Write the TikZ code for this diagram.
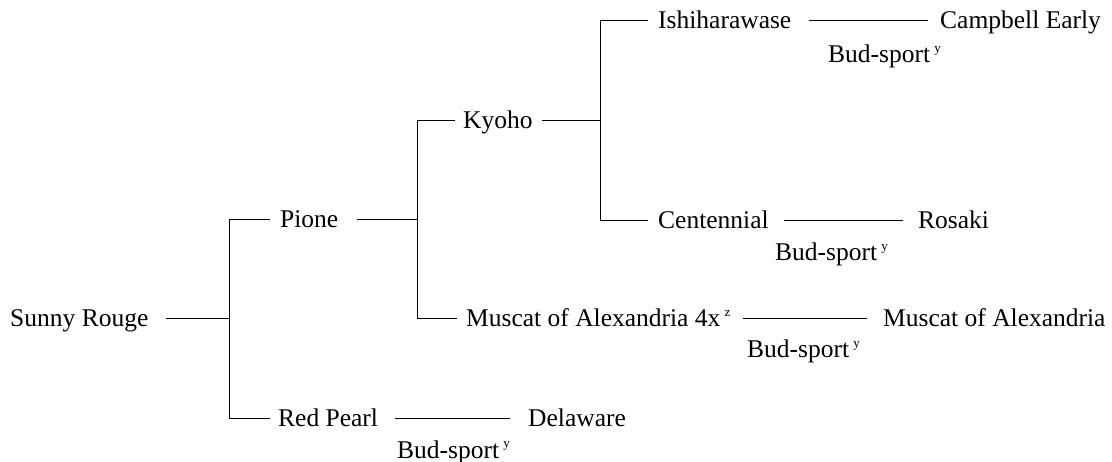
\documentclass[tikz,border=0pt]{standalone}
\usepackage{fontspec}
\setmainfont{Liberation Serif}
\newcommand{\supy}[1]{\,\raisebox{10pt}{\fontsize{13pt}{13pt}\selectfont #1}}
\begin{document}
\begin{tikzpicture}[x=1pt,y=-1pt,
  txt/.style={anchor=west, inner sep=0pt, text height=22pt, text depth=4pt,
    font=\fontsize{25.5pt}{28pt}\selectfont},
  budlab/.style={anchor=base west, inner sep=0pt,
    font=\fontsize{25.5pt}{28pt}\selectfont},
  conn/.style={draw=black, line width=0.9pt}]
\useasboundingbox (0,0) rectangle (1112,462);
% nodes
\node[txt] (sunny) at (10,318) {Sunny Rouge};
\node[txt] (pione) at (280,219) {Pione};
\node[txt] (red) at (278,418) {Red Pearl};
\node[txt] (kyoho) at (463,120) {Kyoho};
\node[txt] (mus4x) at (466,318) {Muscat of Alexandria 4x\supy{z}};
\node[txt] (ishi) at (658,20) {Ishiharawase};
\node[txt] (cent) at (658,220) {Centennial};
\node[txt] (campbell) at (940,20) {Campbell Early};
\node[txt] (rosaki) at (918,220) {Rosaki};
\node[txt] (muscat) at (883,318) {Muscat of Alexandria};
\node[txt] (delaware) at (528,418) {Delaware};
\node[budlab] (bud1) at (828,63) {Bud-sport\supy{y}};
\node[budlab] (bud2) at (775,261) {Bud-sport\supy{y}};
\node[budlab] (bud3) at (747,358) {Bud-sport\supy{y}};
\node[budlab] (bud4) at (397,458) {Bud-sport\supy{y}};
% junctions
\coordinate (j1) at (229,318);
\coordinate (j2) at (417,219);
\coordinate (j3) at (600,120);
% connectors
\draw[conn] ([xshift=17pt]sunny.east) -- (j1);
\draw[conn] ([xshift=-10pt]pione.west) -- (j1 |- pione.west) -- (j1 |- red.west) -- ([xshift=-8pt]red.west);
\draw[conn] ([xshift=19pt]pione.east) -- (j2);
\draw[conn] ([xshift=-8pt]kyoho.west) -- (j2 |- kyoho.west) -- (j2 |- mus4x.west) -- ([xshift=-9pt]mus4x.west);
\draw[conn] ([xshift=9pt]kyoho.east) -- (j3);
\draw[conn] ([xshift=-10pt]ishi.west) -- (j3 |- ishi.west) -- (j3 |- cent.west) -- ([xshift=-10pt]cent.west);
\draw[conn] ([xshift=17pt]ishi.east) -- ([xshift=-12pt]campbell.west);
\draw[conn] ([xshift=15pt]cent.east) -- ([xshift=-15pt]rosaki.west);
\draw[conn] ([xshift=12pt]mus4x.east) -- ([xshift=-16pt]muscat.west);
\draw[conn] ([xshift=17pt]red.east) -- ([xshift=-18pt]delaware.west);
\end{tikzpicture}
\end{document}
